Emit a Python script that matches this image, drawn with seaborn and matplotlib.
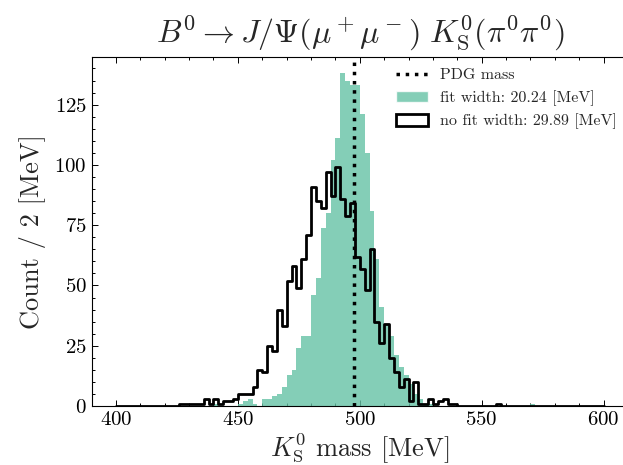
import numpy as np
import pandas as pd
import matplotlib
matplotlib.use("Agg")
import matplotlib.pyplot as plt
import seaborn as sns
from matplotlib.patches import Patch
from matplotlib.lines import Line2D
from matplotlib.ticker import MultipleLocator

# K0_S candidate mass, 2 MeV bins from 400 to 600 MeV (100 bins)
bin_edges = np.arange(400, 602, 2)

# counts per bin
fit_counts = [
    0, 0, 0, 0, 0, 0, 0, 0, 0, 0,        # 400-420
    0, 0, 0, 0, 0, 0, 0, 0, 0, 0,        # 420-440
    1, 0, 0, 0, 0, 1, 2, 3, 1, 0,        # 440-460
    3, 3, 4, 5, 8, 13, 15, 24, 29, 29,   # 460-480
    46, 53, 74, 80, 102, 111, 138, 135, 133, 133,  # 480-500
    121, 105, 81, 61, 41, 34, 29, 21, 16, 13,      # 500-520
    9, 5, 3, 1, 1, 0, 0, 0, 0, 0,        # 520-540
    0, 0, 0, 0, 0, 0, 0, 0, 0, 0,        # 540-560
    0, 0, 0, 0, 0, 1, 0, 0, 0, 0,        # 560-580
    0, 0, 0, 0, 0, 0, 0, 0, 0, 0,        # 580-600
]
nofit_counts = [
    0, 0, 0, 0, 0, 0, 0, 0, 0, 0,        # 400-420
    0, 0, 0, 1, 1, 1, 1, 1, 3, 1,        # 420-440
    3, 1, 2, 2, 3, 5, 5, 5, 8, 15,       # 440-460
    14, 25, 23, 40, 33, 52, 58, 49, 61, 71,        # 460-480
    91, 85, 82, 97, 87, 99, 86, 79, 84, 62,        # 480-500
    57, 48, 65, 35, 26, 34, 20, 14, 8, 11,         # 500-520
    2, 10, 1, 1, 3, 1, 2, 3, 1, 1,       # 520-540
    0, 0, 0, 0, 0, 0, 0, 0, 1, 0,        # 540-560
    0, 0, 0, 0, 0, 0, 0, 0, 0, 0,        # 560-580
    0, 0, 0, 0, 0, 0, 0, 0, 0, 0,        # 580-600
]
pdg_mass = 497.611
fit_width = 20.24
nofit_width = 29.89

df = pd.DataFrame({
    "mass": bin_edges[:-1] + 1,
    "fit": fit_counts,
    "nofit": nofit_counts,
})

sns.set_style("ticks")
plt.rcParams.update({
    "font.family": "serif",
    "font.serif": ["cmr10"],
    "mathtext.fontset": "cm",
    "axes.formatter.use_mathtext": True,
    "axes.unicode_minus": False,
    "axes.linewidth": 0.8,
    "axes.edgecolor": "black",
})

green = "#66c2a5"
hist_range = (bin_edges[0], bin_edges[-1])

fig = plt.figure(figsize=(6.23, 4.65), dpi=100)
# right edge of the axes sits just past the picture, as in the original crop
ax = fig.add_axes([0.1470, 0.1269, 0.861, 0.7512])

sns.histplot(data=df, x="mass", weights="fit", binwidth=2, binrange=hist_range,
             color=green, alpha=0.8, linewidth=0, ax=ax)
sns.histplot(data=df, x="mass", weights="nofit", binwidth=2, binrange=hist_range,
             element="step", fill=False, color="black", linewidth=2, ax=ax)
ax.axvline(pdg_mass, color="black", ls=":", lw=2.5)

ax.set_xlim(390, 610)
ax.set_ylim(0, max(fit_counts) * 1.05)
ax.xaxis.set_minor_locator(MultipleLocator(10))
ax.yaxis.set_major_locator(MultipleLocator(25))
ax.yaxis.set_minor_locator(MultipleLocator(5))
ax.tick_params(which="both", direction="in", top=True, right=False,
               width=0.7, labelsize=15, colors="black")
ax.tick_params(which="major", length=4.3)
ax.tick_params(which="minor", length=2.4)
ax.spines["right"].set_visible(False)

ax.set_xlabel(r"$K^0_\mathrm{S}$ mass [MeV]", fontsize=19, labelpad=2)
ax.set_ylabel("Count / 2 [MeV]", fontsize=19, labelpad=6)
ax.set_title(r"$B^0 \rightarrow J/\Psi(\mu^+\mu^-)\ K^0_\mathrm{S}(\pi^0\pi^0)$",
             fontsize=23, pad=10)

handles = [
    Line2D([0], [0], color="black", ls=":", lw=2.5),
    Patch(facecolor=green, alpha=0.8),
    Patch(facecolor="white", edgecolor="black", linewidth=2),
]
labels = ["PDG mass", f"fit width: {fit_width} [MeV]", f"no fit width: {nofit_width} [MeV]"]
ax.legend(handles, labels, loc="upper right", bbox_to_anchor=(1.006, 1.009),
          frameon=False, fontsize=11.5, handletextpad=0.75)

fig.savefig("out.png", dpi=100)
